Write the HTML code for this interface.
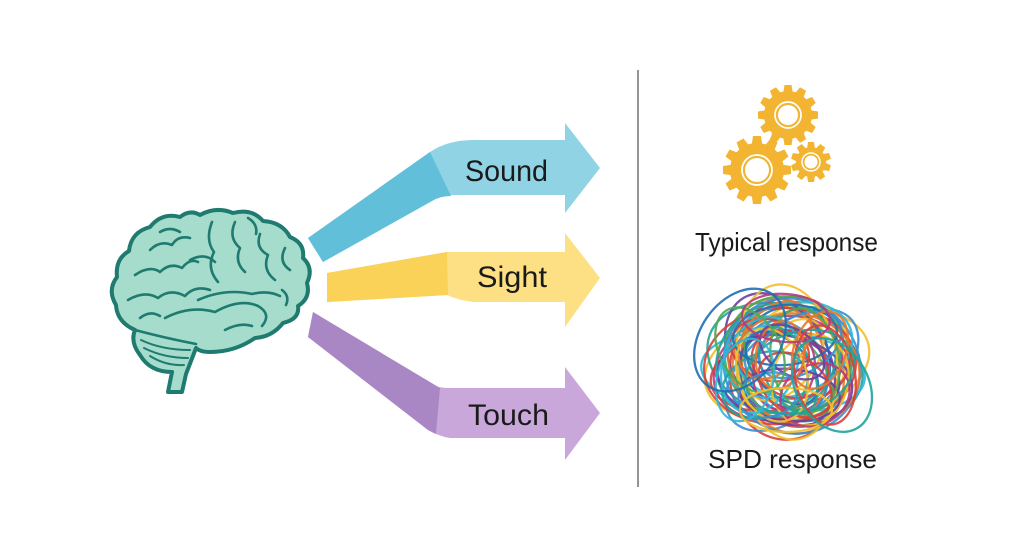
<!DOCTYPE html>
<html><head><meta charset="utf-8"><style>
html,body{margin:0;padding:0;background:#fff;}
svg{display:block;}
text{font-family:"Liberation Sans",Arial,sans-serif;fill:#1a1a1a;}
</style></head><body>
<svg width="1024" height="559" viewBox="0 0 1024 559" xmlns="http://www.w3.org/2000/svg">
<rect width="1024" height="559" fill="#fff"/>

<!-- Brain -->
<g stroke="#1F7A70" stroke-linecap="round" stroke-linejoin="round" fill="none">
<path d="M200 215 Q216 206 233 213 Q252 208 263 221 Q282 222 290 237 Q305 243 303 258 Q314 268 307 283 Q311 298 298 306 Q300 319 283 323 Q272 337 255 338 Q235 352 210 352 Q200 352 196 348 L186 374 L182 392 L168 392 L172 372 Q150 372 140 355 Q130 342 135 330 Q117 322 116 305 Q107 290 117 277 Q115 259 129 251 Q131 232 150 227 Q162 212 180 217 Q190 209 200 215 Z" fill="#A6DCCB" stroke-width="4"/>
<g stroke-width="2.6">
<path d="M150 250 Q160 240 172 245 Q178 235 190 238"/>
<path d="M160 232 Q170 226 180 232"/>
<path d="M135 275 Q150 265 160 272 Q170 262 182 268 Q190 258 198 262"/>
<path d="M128 300 Q145 290 158 298 Q170 288 185 296 Q195 285 210 290"/>
<path d="M212 222 Q205 240 214 252 Q206 268 218 282"/>
<path d="M235 222 Q228 238 240 248 Q234 262 245 272"/>
<path d="M248 218 Q258 224 256 234"/>
<path d="M260 234 Q255 248 268 255 Q262 270 275 280"/>
<path d="M285 248 Q278 262 290 270"/>
<path d="M282 290 Q290 296 286 305"/>
<path d="M165 318 Q190 305 215 312 Q240 298 258 306 Q272 314 262 326"/>
<path d="M198 300 Q225 288 252 294 Q268 290 280 296"/>
<path d="M225 330 Q240 322 252 326"/>
<path d="M190 260 Q205 252 215 262"/>
<path d="M140 318 Q150 310 160 316"/>
<path d="M135 330 Q165 338 196 344"/>
<path d="M141 340 Q162 350 190 350" stroke-width="2"/>
<path d="M144 348 Q164 358 188 358" stroke-width="2"/>
<path d="M150 356 Q166 366 184 365" stroke-width="2"/>
</g>
</g>

<!-- Sound arrow -->
<path d="M308 238 L430 152 Q448 140 473 140 L565 140 L565 123 L600 168 L565 213 L565 195 L452 195 Q440 196 432 201 L323 262 Z" fill="#8FD3E5"/>
<path d="M308 238 L430 152 L451 196 Q440 196 432 201 L323 262 Z" fill="#62BFDA"/>
<!-- Sight arrow -->
<path d="M327 273 L447 252 L565 252 L565 233 L600 278 L565 327 L565 302 L473 302 Q458 300 447 295 L327 302 Z" fill="#FDE084"/>
<path d="M327 273 L447 252 L448 295 L327 302 Z" fill="#F9D257"/>
<!-- Touch arrow -->
<path d="M313 312 L430 385 Q440 388 450 388 L565 388 L565 367 L600 413 L565 460 L565 438 L450 438 Q438 436 428 430 L308 337 Z" fill="#C9A7DA"/>
<path d="M313 312 L440 388 L436 434 Q432 432 428 430 L308 337 Z" fill="#A987C5"/>

<text x="465" y="181" font-size="30" textLength="83" lengthAdjust="spacingAndGlyphs">Sound</text>
<text x="477" y="287" font-size="30" textLength="70" lengthAdjust="spacingAndGlyphs">Sight</text>
<text x="468" y="425" font-size="30" textLength="81" lengthAdjust="spacingAndGlyphs">Touch</text>

<!-- Divider -->
<line x1="638" y1="70" x2="638" y2="487" stroke="#7a7a7a" stroke-width="1.6"/>

<!-- Gears -->
<g fill="#F2B431">
 <g transform="translate(757,170)">
  <circle r="27"/>
  <g id="bt"><path d="M-5.5 -24 L-4 -34 L4 -34 L5.5 -24 Z"/></g>
  <use href="#bt" transform="rotate(30)"/><use href="#bt" transform="rotate(60)"/><use href="#bt" transform="rotate(90)"/>
  <use href="#bt" transform="rotate(120)"/><use href="#bt" transform="rotate(150)"/><use href="#bt" transform="rotate(180)"/>
  <use href="#bt" transform="rotate(210)"/><use href="#bt" transform="rotate(240)"/><use href="#bt" transform="rotate(270)"/>
  <use href="#bt" transform="rotate(300)"/><use href="#bt" transform="rotate(330)"/>
  <circle r="15" fill="none" stroke="#fff" stroke-width="1.8"/>
  <circle r="12" fill="#fff"/>
 </g>
 <g transform="translate(788,115)">
  <circle r="24"/>
  <g id="mt"><path d="M-5 -21 L-3.5 -30 L3.5 -30 L5 -21 Z"/></g>
  <use href="#mt" transform="rotate(30)"/><use href="#mt" transform="rotate(60)"/><use href="#mt" transform="rotate(90)"/>
  <use href="#mt" transform="rotate(120)"/><use href="#mt" transform="rotate(150)"/><use href="#mt" transform="rotate(180)"/>
  <use href="#mt" transform="rotate(210)"/><use href="#mt" transform="rotate(240)"/><use href="#mt" transform="rotate(270)"/>
  <use href="#mt" transform="rotate(300)"/><use href="#mt" transform="rotate(330)"/>
  <circle r="13" fill="none" stroke="#fff" stroke-width="1.7"/>
  <circle r="10" fill="#fff"/>
 </g>
 <g transform="translate(811,162)">
  <circle r="15"/>
  <g id="st"><path d="M-4 -13 L-3 -20 L3 -20 L4 -13 Z"/></g>
  <use href="#st" transform="rotate(36)"/><use href="#st" transform="rotate(72)"/><use href="#st" transform="rotate(108)"/>
  <use href="#st" transform="rotate(144)"/><use href="#st" transform="rotate(180)"/><use href="#st" transform="rotate(216)"/>
  <use href="#st" transform="rotate(252)"/><use href="#st" transform="rotate(288)"/><use href="#st" transform="rotate(324)"/>
  <circle r="9" fill="none" stroke="#fff" stroke-width="1.5"/>
  <circle r="6.5" fill="#fff"/>
 </g>
</g>

<text x="695" y="251" font-size="26" textLength="183" lengthAdjust="spacingAndGlyphs">Typical response</text>

<!-- Scribble -->
<g fill="none" stroke-width="2.3" stroke-opacity="0.9">
<ellipse cx="787" cy="365" rx="84" ry="52" transform="rotate(-15 787 365)" stroke="#F2C02C"/>
<ellipse cx="785" cy="362" rx="80" ry="56" transform="rotate(20 785 362)" stroke="#21A39A"/>
<ellipse cx="790" cy="368" rx="60" ry="72" transform="rotate(10 790 368)" stroke="#D9403A"/>
<ellipse cx="780" cy="360" rx="72" ry="48" transform="rotate(60 780 360)" stroke="#6B3FA0"/>
<ellipse cx="792" cy="370" rx="78" ry="45" transform="rotate(-40 792 370)" stroke="#3A8FD0"/>
<ellipse cx="786" cy="366" rx="55" ry="70" transform="rotate(-25 786 366)" stroke="#E8772E"/>
<ellipse cx="783" cy="372" rx="82" ry="40" transform="rotate(5 783 372)" stroke="#2BB8D8"/>
<ellipse cx="788" cy="358" rx="65" ry="60" transform="rotate(35 788 358)" stroke="#4DAA57"/>
<ellipse cx="778" cy="368" rx="50" ry="66" transform="rotate(70 778 368)" stroke="#B23C7E"/>
<ellipse cx="795" cy="362" rx="62" ry="50" transform="rotate(-60 795 362)" stroke="#F2C02C"/>
<ellipse cx="785" cy="366" rx="45" ry="58" stroke="#1F6FB2"/>
<ellipse cx="780" cy="372" rx="70" ry="38" transform="rotate(-10 780 372)" stroke="#D9403A"/>
<ellipse cx="790" cy="360" rx="42" ry="62" transform="rotate(45 790 360)" stroke="#21A39A"/>
<ellipse cx="784" cy="364" rx="58" ry="42" transform="rotate(80 784 364)" stroke="#E8772E"/>
<ellipse cx="786" cy="368" rx="38" ry="50" transform="rotate(-30 786 368)" stroke="#3A8FD0"/>
<ellipse cx="790" cy="372" rx="52" ry="35" transform="rotate(25 790 372)" stroke="#6B3FA0"/>
<ellipse cx="782" cy="362" rx="35" ry="48" transform="rotate(-70 782 362)" stroke="#2BB8D8"/>
<ellipse cx="788" cy="366" rx="60" ry="30" transform="rotate(50 788 366)" stroke="#4DAA57"/>
<ellipse cx="784" cy="370" rx="30" ry="40" transform="rotate(15 784 370)" stroke="#B23C7E"/>
<ellipse cx="786" cy="360" rx="48" ry="28" transform="rotate(-50 786 360)" stroke="#F2C02C"/>
<ellipse cx="780" cy="366" rx="76" ry="58" transform="rotate(-5 780 366)" stroke="#D9403A"/>
<ellipse cx="792" cy="366" rx="70" ry="66" transform="rotate(40 792 366)" stroke="#3A8FD0"/>
<ellipse cx="776" cy="360" rx="62" ry="55" transform="rotate(-35 776 360)" stroke="#21A39A"/>
<ellipse cx="796" cy="370" rx="56" ry="64" transform="rotate(-75 796 370)" stroke="#E8772E"/>
<ellipse cx="785" cy="380" rx="68" ry="44" transform="rotate(12 785 380)" stroke="#6B3FA0"/>
<ellipse cx="788" cy="350" rx="66" ry="46" transform="rotate(-18 788 350)" stroke="#2BB8D8"/>
<ellipse cx="787" cy="362" rx="50" ry="78" transform="rotate(-8 787 362)" stroke="#F2C02C"/>
<ellipse cx="790" cy="364" rx="40" ry="32" transform="rotate(30 790 364)" stroke="#D9403A"/>
<ellipse cx="782" cy="368" rx="26" ry="44" transform="rotate(-45 782 368)" stroke="#1F6FB2"/>
<ellipse cx="788" cy="370" rx="46" ry="24" transform="rotate(65 788 370)" stroke="#21A39A"/>
<ellipse cx="770" cy="350" rx="40" ry="30" transform="rotate(20 770 350)" stroke="#D9403A"/>
<ellipse cx="800" cy="345" rx="45" ry="28" transform="rotate(-30 800 345)" stroke="#3A8FD0"/>
<ellipse cx="810" cy="380" rx="38" ry="46" transform="rotate(15 810 380)" stroke="#F2C02C"/>
<ellipse cx="765" cy="385" rx="44" ry="32" transform="rotate(-20 765 385)" stroke="#21A39A"/>
<ellipse cx="790" cy="395" rx="50" ry="26" transform="rotate(5 790 395)" stroke="#6B3FA0"/>
<ellipse cx="775" cy="340" rx="30" ry="44" transform="rotate(40 775 340)" stroke="#E8772E"/>
<ellipse cx="805" cy="360" rx="34" ry="52" transform="rotate(-10 805 360)" stroke="#4DAA57"/>
<ellipse cx="760" cy="365" rx="36" ry="50" transform="rotate(25 760 365)" stroke="#2BB8D8"/>
<ellipse cx="815" cy="395" rx="30" ry="36" transform="rotate(60 815 395)" stroke="#B23C7E"/>
<ellipse cx="785" cy="335" rx="52" ry="30" transform="rotate(-5 785 335)" stroke="#1F6FB2"/>
<ellipse cx="795" cy="385" rx="28" ry="40" transform="rotate(-55 795 385)" stroke="#D9403A"/>
<ellipse cx="772" cy="375" rx="48" ry="34" transform="rotate(70 772 375)" stroke="#F2C02C"/>
<ellipse cx="800" cy="372" rx="56" ry="40" transform="rotate(-20 800 372)" stroke="#21A39A"/>
<ellipse cx="780" cy="355" rx="24" ry="34" transform="rotate(10 780 355)" stroke="#E8772E"/>
<ellipse cx="792" cy="352" rx="36" ry="22" transform="rotate(35 792 352)" stroke="#6B3FA0"/>
<ellipse cx="768" cy="395" rx="30" ry="22" transform="rotate(-15 768 395)" stroke="#3A8FD0"/>
<ellipse cx="820" cy="350" rx="26" ry="40" transform="rotate(20 820 350)" stroke="#E8772E"/>
<ellipse cx="750" cy="350" rx="30" ry="46" transform="rotate(-30 750 350)" stroke="#4DAA57"/>
<ellipse cx="825" cy="375" rx="30" ry="50" transform="rotate(-10 825 375)" stroke="#D9403A"/>
<ellipse cx="745" cy="380" rx="28" ry="42" transform="rotate(15 745 380)" stroke="#2BB8D8"/>
<ellipse cx="786" cy="410" rx="46" ry="22" stroke="#F2C02C"/>
<ellipse cx="786" cy="318" rx="44" ry="24" transform="rotate(5 786 318)" stroke="#B23C7E"/>
<ellipse cx="740" cy="340" rx="40" ry="56" transform="rotate(35 740 340)" stroke="#1F6FB2"/>
<ellipse cx="832" cy="385" rx="36" ry="50" transform="rotate(-30 832 385)" stroke="#21A39A"/>
</g>

<text x="708" y="468" font-size="26" textLength="169" lengthAdjust="spacingAndGlyphs">SPD response</text>
</svg>
</body></html>
